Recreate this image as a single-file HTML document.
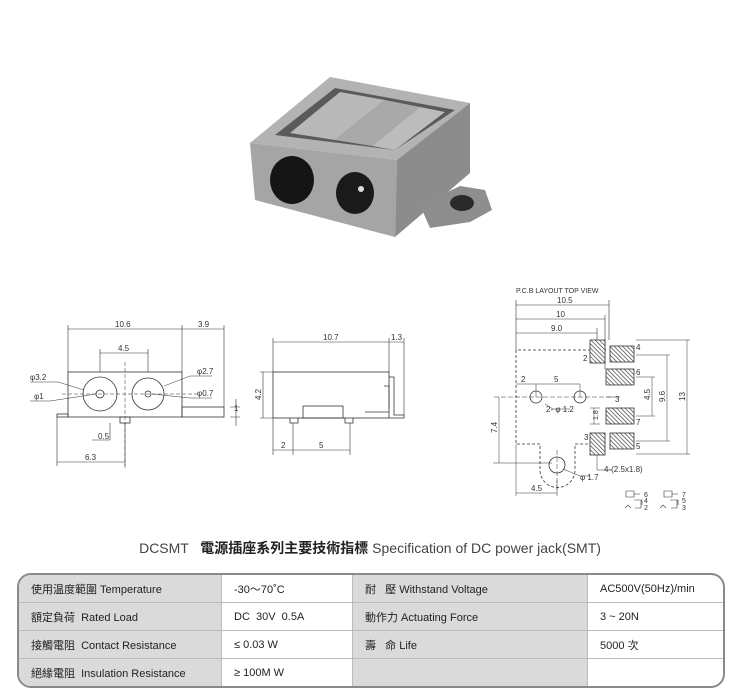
<!DOCTYPE html>
<html><head><meta charset="utf-8"><style>
body{margin:0;background:#fff;width:740px;height:700px;overflow:hidden;position:relative;font-family:"Liberation Sans","Noto Sans CJK TC",sans-serif}
.t{position:absolute;left:0;width:740px;top:538px;text-align:center;font-size:14px;color:#444}
.t b{color:#222}
table{position:absolute;left:17px;top:573px;width:708px;border-collapse:separate;border-spacing:0;border:2px solid #8a8a8a;border-radius:14px;overflow:hidden;font-size:11px;color:#222}
td{height:27px;padding:0 0 0 12px;border-right:1px solid #bbb;border-bottom:1px solid #bbb}
tr:last-child td{border-bottom:none}
td:last-child{border-right:none}
.g{background:#dadada}
</style></head><body>
<svg width="740" height="530" style="position:absolute;left:0;top:0" font-family="Liberation Sans, sans-serif" font-size="8" fill="#333">
<!-- photo -->
<polygon points="250,143 330,77 470,103 397,160" fill="#b3b3b3"/>
<polygon points="275,135 335,88 455,110 395,150" fill="#5a5a5a"/>
<polygon points="290,133 340,92 385,100 335,140" fill="#b8b8b8"/>
<polygon points="335,140 385,100 420,107 372,146" fill="#a9a9a9"/>
<polygon points="372,146 420,107 445,112 395,150" fill="#bcbcbc"/>
<polygon points="250,143 397,160 395,237 255,200" fill="#a5a5a5"/>
<polygon points="397,160 470,103 470,173 395,237" fill="#8c8c8c"/>
<polygon points="420,205 460,186 485,190 492,210 470,222 430,228" fill="#8e8e8e"/>
<ellipse cx="462" cy="203" rx="12" ry="8" fill="#2a2a2a"/>
<ellipse cx="292" cy="180" rx="22" ry="24" fill="#151515"/>
<ellipse cx="355" cy="193" rx="19" ry="21" fill="#1a1a1a"/>
<circle cx="361" cy="189" r="3" fill="#ddd"/>
<g stroke="#333" stroke-width="0.8" fill="none">
<rect x="68" y="372" width="114" height="45"/>
<rect x="57" y="414" width="11" height="3"/>
<rect x="182" y="407" width="42" height="10"/>
<rect x="120" y="417" width="10" height="6"/>
<circle cx="100" cy="394" r="17"/><circle cx="100" cy="394" r="4"/>
<circle cx="148" cy="394" r="16"/><circle cx="148" cy="394" r="3"/>
<path d="M68,372V325M182,372V325M224,407V325M68,329H182M182,329H224M100,372V349M148,372V349M100,353H148M57,417V466M125,423V466M57,462H125M110,423V440H92M230,407H240M230,417H240M236,399V426" stroke-width="0.6"/>
<path d="M62,394H200M125,362V470" stroke-dasharray="4,2" stroke-width="0.5"/>
<path d="M30,382H58L84,390M30,401H50L96,394M190,376H212M190,376L164,386M190,398H212M190,398L152,394" stroke-width="0.5"/>
<rect x="273" y="372" width="116" height="46"/>
<rect x="303" y="406" width="40" height="12"/>
<path d="M290,418v5h8v-5M345,418v5h8v-5M389,377h5v38h10v3h-15M384,386h5v23M365,412h24"/>
<path d="M273,372V338M389,372V338M404,415V338M273,342H389M389,342H404M260,372H273M260,418H273M263,372V418M273,418V455M293,423V455M350,423V455M273,450H350" stroke-width="0.6"/>
<path d="M516,350V300M609,340V300M605,369V315M597,340V328M516,305H609M516,319H605M516,333H597" stroke-width="0.6"/>
<path d="M606,350H516V444H540V470A17,17 0 0 0 575,470V444H590" stroke-dasharray="3,2"/>
<circle cx="536" cy="397" r="6"/><circle cx="580" cy="397" r="6"/><circle cx="557" cy="465" r="8"/>
<path d="M494,397H612M557,450V490" stroke-dasharray="5,2" stroke-width="0.5"/>
<path d="M516,384H580M536,384V397M580,384V397M493,463H552M499,397V463M516,444V496M557,480V496M516,493H557M636,340H690M636,454H690M687,340V454M636,355H670M636,441H670M667,355V441M636,377H655M636,416H655M652,377V416M600,408H590M600,424H590M594,408V424M606,397H620M545,404L553,409H570M563,469L580,476H590M597,455V470L604,470H612" stroke-width="0.5"/>
<g fill="url(#h)"><rect x="590" y="340" width="15" height="23"/><rect x="610" y="346" width="24" height="16"/><rect x="606" y="369" width="28" height="16"/><rect x="606" y="408" width="28" height="16"/><rect x="590" y="433" width="15" height="22"/><rect x="610" y="433" width="24" height="16"/></g>
<path d="M626,491h8v6h-8zM634,494h6M664,491h8v6h-8zM672,494h6M634,500h8v5M641,500v8h-6M670,500h8v5M677,500v8h-6M625,508l3,-3 3,3M660,508l3,-3 3,3" stroke-width="0.6"/>
</g>
<defs><pattern id="h" width="3" height="3" patternUnits="userSpaceOnUse" patternTransform="rotate(-45)"><rect width="3" height="3" fill="#fff"/><line x1="0" y1="0" x2="0" y2="3" stroke="#333" stroke-width="1.3"/></pattern></defs>
<text x="115" y="327">10.6</text><text x="198" y="327">3.9</text><text x="118" y="351">4.5</text>
<text x="30" y="380">φ3.2</text><text x="34" y="399">φ1</text><text x="197" y="374">φ2.7</text><text x="197" y="396">φ0.7</text>
<text x="98" y="439">0.5</text><text x="85" y="460">6.3</text><text x="234" y="411">1</text>
<text x="323" y="340">10.7</text><text x="391" y="340">1.3</text><text x="281" y="448">2</text><text x="319" y="448">5</text>
<text x="261" y="400" transform="rotate(-90 261 400)">4.2</text>
<text x="516" y="293" font-size="7">P.C.B LAYOUT   TOP VIEW</text>
<text x="557" y="303">10.5</text><text x="556" y="317">10</text><text x="551" y="331">9.0</text>
<text x="583" y="361">2</text><text x="636" y="350">4</text><text x="636" y="375">6</text><text x="636" y="425">7</text><text x="584" y="440">3</text><text x="636" y="449">5</text>
<text x="521" y="382">2</text><text x="554" y="382">5</text><text x="546" y="412">2- φ 1.2</text><text x="615" y="402">3</text>
<text x="604" y="472">4-(2.5x1.8)</text><text x="580" y="480">φ 1.7</text><text x="531" y="491">4.5</text>
<text x="497" y="433" transform="rotate(-90 497 433)">7.4</text>
<text x="650" y="400" transform="rotate(-90 650 400)">4.5</text>
<text x="665" y="402" transform="rotate(-90 665 402)">9.6</text>
<text x="685" y="401" transform="rotate(-90 685 401)">13</text>
<text x="598" y="420" transform="rotate(-90 598 420)" font-size="7">1.8</text>
<text x="644" y="497" font-size="7">6</text><text x="682" y="497" font-size="7">7</text><text x="644" y="503" font-size="7">4</text><text x="682" y="503" font-size="7">5</text><text x="644" y="510" font-size="7">2</text><text x="682" y="510" font-size="7">3</text>
</svg>
<div class="t">DCSMT &nbsp;&nbsp;<b>電源插座系列主要技術指標</b> Specification of DC power jack(SMT)</div>
<table>
<tr><td class="g" style="width:190px">使用温度範圍 Temperature</td><td style="width:118px">-30～70˚C</td><td class="g" style="width:222px">耐 &nbsp; 壓 Withstand Voltage</td><td>AC500V(50Hz)/min</td></tr>
<tr><td class="g">額定負荷 &nbsp;Rated Load</td><td>DC &nbsp;30V &nbsp;0.5A</td><td class="g">動作力 Actuating Force</td><td>3 ~ 20N</td></tr>
<tr><td class="g">接觸電阻 &nbsp;Contact Resistance</td><td>≤ 0.03 W</td><td class="g">壽 &nbsp; 命 Life</td><td>5000 次</td></tr>
<tr><td class="g">絕緣電阻 &nbsp;Insulation Resistance</td><td>≥ 100M W</td><td class="g"></td><td></td></tr>
</table>
</body></html>
